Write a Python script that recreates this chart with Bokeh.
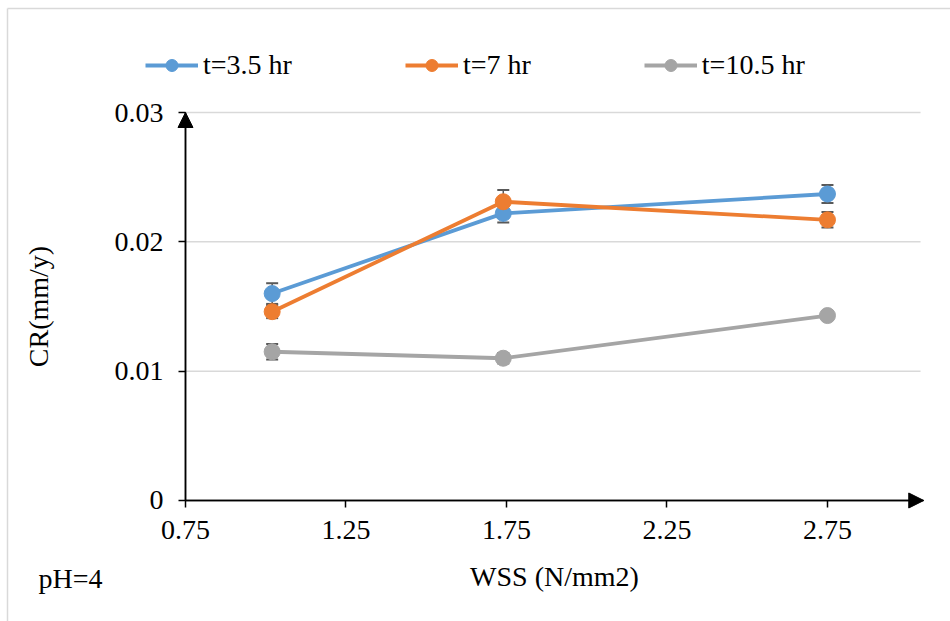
from bokeh.plotting import figure
from bokeh.models import (ColumnDataSource, Whisker, TeeHead, Arrow, NormalHead,
                          Legend, LegendItem, FixedTicker, Range1d, Label)
from bokeh.embed import file_html
from bokeh.resources import INLINE

# ---- data ----
wss = [1.02, 1.74, 2.75]
cr_35 = [0.0160, 0.0222, 0.0237]
cr_7 = [0.0146, 0.0231, 0.0217]
cr_105 = [0.0115, 0.0110, 0.0143]
err_35 = [0.0008, 0.0007, 0.0007]
err_7 = [0.0005, 0.0009, 0.0006]
err_105 = [0.0006, 0.0004, 0.0003]
series_names = ["t=3.5 hr", "t=7 hr", "t=10.5 hr"]
colors = ["#5B9BD5", "#ED7D31", "#A5A5A5"]
x_ticks = [0.75, 1.25, 1.75, 2.25, 2.75]
y_ticks = [0, 0.01, 0.02, 0.03]
y_tick_labels = ["0", "0.01", "0.02", "0.03"]

FONT = "Liberation Serif"
FS = "28px"

X0, X1 = 0.18925, 3.1333
Y0, Y1 = -0.009356, 0.038274

# frame covers nearly the whole canvas; axes are pinned at x=0.75 / y=0
p = figure(width=950, height=621, output_backend="svg", toolbar_location=None,
           x_range=Range1d(X0, X1), y_range=Range1d(Y0, Y1),
           min_border_left=5, min_border_right=0, min_border_top=5,
           min_border_bottom=0)
p.outline_line_color = None
p.background_fill_color = "white"
p.border_fill_color = "white"

p.xaxis.fixed_location = 0
p.yaxis.fixed_location = 0.75
p.xaxis.bounds = (0.75, 3.05)
p.yaxis.bounds = (0, 0.03)
p.xaxis.ticker = FixedTicker(ticks=x_ticks)
p.yaxis.ticker = FixedTicker(ticks=y_ticks)
p.yaxis.major_label_overrides = {t: l for t, l in zip(y_ticks, y_tick_labels)}
for ax in (p.xaxis, p.yaxis):
    ax.axis_line_color = "black"
    ax.axis_line_width = 1.5
    ax.major_tick_line_color = "black"
    ax.major_tick_line_width = 1.5
    ax.major_tick_out = 7
    ax.major_tick_in = 0
    ax.minor_tick_line_color = None
    ax.major_label_text_font = FONT
    ax.major_label_text_font_size = FS
    ax.major_label_text_color = "black"
    ax.axis_label_text_font = FONT
    ax.axis_label_text_font_size = FS
    ax.axis_label_text_font_style = "normal"
    ax.axis_label_text_color = "black"
p.xaxis.axis_label = "WSS (N/mm2)"
p.yaxis.axis_label = "CR(mm/y)"
p.xaxis.major_label_standoff = 14
p.yaxis.major_label_standoff = 15
p.xaxis.axis_label_standoff = 18
p.yaxis.axis_label_standoff = 58

p.xgrid.grid_line_color = None
p.ygrid.grid_line_color = None

# chart-area border (light grey, left and top)
bx = 0.75 - 178 / 321
by = 492 / 12933
p.segment(x0=[bx, bx], x1=[bx, X1], y0=[Y0, by], y1=[by, by],
          line_color="#D9D9D9", line_width=1.5, level="underlay")

# horizontal gridlines at the y ticks
p.segment(x0=[0.75] * 3, x1=[3.04] * 3, y0=y_ticks[1:], y1=y_ticks[1:],
          line_color="#D9D9D9", line_width=1.5, level="underlay")

# error bars
all_y = [cr_35, cr_7, cr_105]
all_e = [err_35, err_7, err_105]
for ys, es in zip(all_y, all_e):
    src = ColumnDataSource(dict(x=wss, lo=[y - e for y, e in zip(ys, es)],
                                hi=[y + e for y, e in zip(ys, es)]))
    w = Whisker(source=src, base="x", lower="lo", upper="hi",
                line_color="#595959", line_width=1.5,
                lower_head=TeeHead(size=12, line_color="#595959", line_width=2),
                upper_head=TeeHead(size=12, line_color="#595959", line_width=2))
    p.add_layout(w)

items = []
for name, ys, c in zip(series_names, all_y, colors):
    src = ColumnDataSource(dict(x=wss, y=ys))
    ln = p.line("x", "y", source=src, line_color=c, line_width=3.8)
    mk = p.scatter("x", "y", source=src, marker="circle", size=16,
                   fill_color=c, line_color=c)
    items.append(LegendItem(label=name, renderers=[ln, mk]))

legend = Legend(items=items, orientation="horizontal", location=(140, 540),
                glyph_width=53, glyph_height=30, label_height=30,
                label_standoff=5, spacing=113, padding=0, margin=0,
                border_line_color=None, background_fill_alpha=0,
                label_text_font=FONT, label_text_font_size=FS,
                label_text_color="black")
p.add_layout(legend, "center")

# axis arrows
p.add_layout(Arrow(end=NormalHead(size=15, fill_color="black", line_color="black"),
                   x_start=0.75, y_start=0, x_end=3.05, y_end=0,
                   line_color="black", line_width=1.5))
p.add_layout(Arrow(end=NormalHead(size=15, fill_color="black", line_color="black"),
                   x_start=0.75, y_start=0, x_end=0.75, y_end=0.0300,
                   line_color="black", line_width=1.5))

p.add_layout(Label(x=0.75 - 147 / 321, y=-78 / 12933, text="pH=4", text_font=FONT,
                   text_font_size=FS, text_color="black",
                   text_baseline="alphabetic"))

open("out.html", "w").write(file_html(p, INLINE))
